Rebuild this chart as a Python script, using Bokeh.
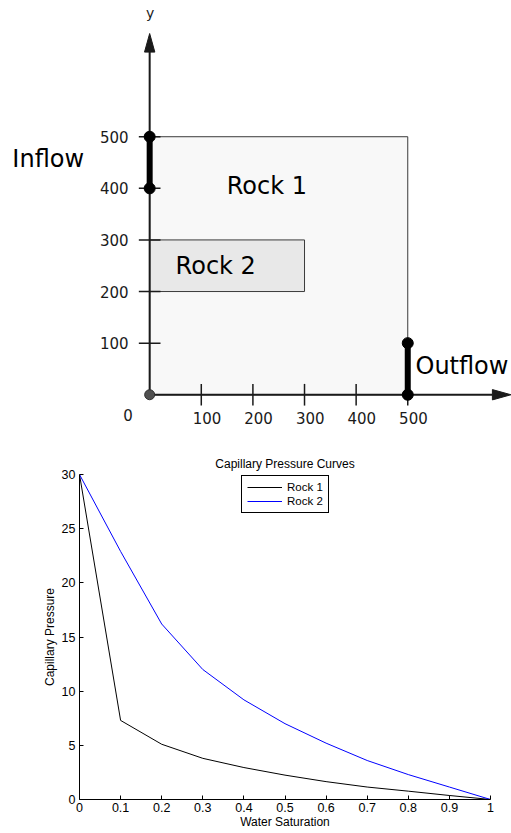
from bokeh.plotting import figure
from bokeh.models import Range1d, Legend, LegendItem, FixedTicker, CustomJSTickFormatter
from bokeh.core.properties import value
from bokeh.embed import file_html
from bokeh.resources import INLINE

# ---------------- domain sketch ----------------
domain_x = [0, 500]          # Rock 1 fills the whole square
domain_y = [0, 500]
rock2_x = [0, 300]           # embedded Rock 2 block
rock2_y = [200, 300]
inflow_y = [400, 500]        # inflow boundary on x = 0
outflow_y = [0, 100]         # outflow boundary on x = 500
grid_ticks = [100, 200, 300, 400, 500]
grid_tick_labels = ["100", "200", "300", "400", "500"]
axis_end = 700

# ---------------- capillary pressure curves ----------------
water_sat = [0.0, 0.1, 0.2, 0.3, 0.4, 0.5, 0.6, 0.7, 0.8, 0.9, 1.0]
pc_rock1 = [30.0, 7.3, 5.1, 3.8, 2.95, 2.25, 1.65, 1.15, 0.77, 0.37, 0.0]
pc_rock2 = [30.0, 22.9, 16.2, 12.0, 9.2, 7.0, 5.2, 3.6, 2.3, 1.15, 0.0]
sat_ticks = [0, 0.1, 0.2, 0.3, 0.4, 0.5, 0.6, 0.7, 0.8, 0.9, 1]
pc_ticks = [0, 5, 10, 15, 20, 25, 30]

SKETCH_FONT = value("DejaVu Sans")
INK = "#1a1a1a"

top = figure(width=511, height=430, x_range=Range1d(-289, 701), y_range=Range1d(-69.3, 764),
             x_axis_location=None, y_axis_location=None, min_border=0,
             min_border_left=0, min_border_right=0, min_border_top=0, min_border_bottom=0,
             output_backend="svg", toolbar_location=None)
top.grid.visible = False
top.outline_line_color = None
top.background_fill_color = "white"

# rock regions
top.quad(left=[domain_x[0]], right=[domain_x[1]], bottom=[domain_y[0]], top=[domain_y[1]],
         fill_color="#f8f8f8", line_color="#3a3a3a", line_width=1)
top.quad(left=[rock2_x[0]], right=[rock2_x[1]], bottom=[rock2_y[0]], top=[rock2_y[1]],
         fill_color="#e8e8e8", line_color="#3a3a3a", line_width=1)

# coordinate axes with arrow heads
head_len, head_half = 36, 10
top.segment(x0=[0, 0], y0=[0, 0], x1=[axis_end - head_len, 0], y1=[0, axis_end - head_len],
            line_width=2, line_color=INK)
top.patches(xs=[[axis_end - head_len, axis_end, axis_end - head_len], [-head_half, 0, head_half]],
            ys=[[head_half, 0, -head_half], [axis_end - head_len, axis_end, axis_end - head_len]],
            fill_color=INK, line_color=INK)

# tick marks crossing the axes
tick_half = 21
top.segment(x0=[-tick_half] * len(grid_ticks), y0=grid_ticks,
            x1=[tick_half] * len(grid_ticks), y1=grid_ticks, line_width=1.5, line_color=INK)
top.segment(x0=grid_ticks, y0=[-tick_half] * len(grid_ticks),
            x1=grid_ticks, y1=[tick_half] * len(grid_ticks), line_width=1.5, line_color=INK)

top.text(x=[-41] * len(grid_ticks), y=grid_ticks, text=grid_tick_labels,
         text_align="right", text_baseline="middle", text_font=SKETCH_FONT,
         text_font_size="15px", text_color=INK)
top.text(x=[t + 11 for t in grid_ticks], y=[-46] * len(grid_ticks), text=grid_tick_labels,
         text_align="center", text_baseline="middle", text_font=SKETCH_FONT,
         text_font_size="15px", text_color=INK)
top.text(x=[-42], y=[-39], text=["0"], text_align="center", text_baseline="middle",
         text_font=SKETCH_FONT, text_font_size="15px", text_color=INK)
top.text(x=[1], y=[739], text=["y"], text_align="center", text_baseline="middle",
         text_font=SKETCH_FONT, text_font_size="14px", text_color=INK)

# inflow / outflow boundaries
top.segment(x0=[0, domain_x[1]], y0=[inflow_y[0], outflow_y[0]],
            x1=[0, domain_x[1]], y1=[inflow_y[1], outflow_y[1]],
            line_width=6, line_color="black")
top.scatter(x=[0, 0, domain_x[1], domain_x[1]], y=inflow_y + outflow_y,
            size=11, fill_color="black", line_color="black")
top.scatter(x=[0], y=[0], size=10, fill_color="#505050", line_color="#303030")

# region and boundary names
top.text(x=[-266], y=[456], text=["Inflow"], text_align="left", text_baseline="middle",
         text_font=SKETCH_FONT, text_font_size="24px", text_color="black")
top.text(x=[515], y=[55], text=["Outflow"], text_align="left", text_baseline="middle",
         text_font=SKETCH_FONT, text_font_size="24px", text_color="black")
top.text(x=[227], y=[405], text=["Rock 1"], text_align="center", text_baseline="middle",
         text_font=SKETCH_FONT, text_font_size="24px", text_color="black")
top.text(x=[128], y=[250], text=["Rock 2"], text_align="center", text_baseline="middle",
         text_font=SKETCH_FONT, text_font_size="24px", text_color="black")

# ---------------- Pc(Sw) plot ----------------
PLOT_FONT = "Liberation Sans"
bot = figure(width=511, height=403, x_range=Range1d(0, 1), y_range=Range1d(0, 30),
             min_border_left=79, min_border_right=21, min_border_top=44, min_border_bottom=34,
             title="Capillary Pressure Curves",
             output_backend="svg", toolbar_location=None)
bot.grid.visible = False
bot.outline_line_color = None
bot.title.align = "center"
bot.title.text_font = PLOT_FONT
bot.title.text_font_size = "12px"
bot.title.text_font_style = "normal"
bot.title.text_color = "black"
bot.title.standoff = 7

r1 = bot.line(water_sat, pc_rock1, line_color="black", line_width=1)
r2 = bot.line(water_sat, pc_rock2, line_color="blue", line_width=1)

bot.xaxis.ticker = FixedTicker(ticks=sat_ticks)
bot.xaxis.formatter = CustomJSTickFormatter(code="return (+tick.toFixed(1)).toString();")
bot.yaxis.ticker = FixedTicker(ticks=pc_ticks)
bot.xaxis.axis_label = "Water Saturation"
bot.yaxis.axis_label = "Capillary Pressure"
for ax in (bot.xaxis, bot.yaxis):
    ax.major_tick_in = 4
    ax.major_tick_out = 0
    ax.minor_tick_line_color = None
    ax.axis_line_color = "black"
    ax.major_tick_line_color = "black"
    ax.major_label_text_font = PLOT_FONT
    ax.major_label_text_font_size = "12.5px"
    ax.major_label_text_color = "black"
    ax.axis_label_text_font = PLOT_FONT
    ax.axis_label_text_font_size = "12px"
    ax.axis_label_text_font_style = "normal"
    ax.axis_label_text_color = "black"
bot.xaxis.major_label_standoff = 3
bot.yaxis.major_label_standoff = 4
bot.xaxis.axis_label_standoff = 0
bot.yaxis.axis_label_standoff = 2

legend = Legend(items=[LegendItem(label="Rock 1", renderers=[r1]),
                       LegendItem(label="Rock 2", renderers=[r2])],
                location=(162, 286), orientation="vertical",
                border_line_color="black", border_line_width=1, border_line_alpha=1,
                background_fill_color="white", background_fill_alpha=1,
                label_text_font=PLOT_FONT, label_text_font_size="11.5px",
                label_text_color="black",
                glyph_width=35, glyph_height=12, label_height=12,
                label_standoff=5, spacing=2, padding=5, margin=0)
bot.add_layout(legend)

# two independent roots, stacked one above the other
open("out.html", "w").write(file_html([top, bot], INLINE))
